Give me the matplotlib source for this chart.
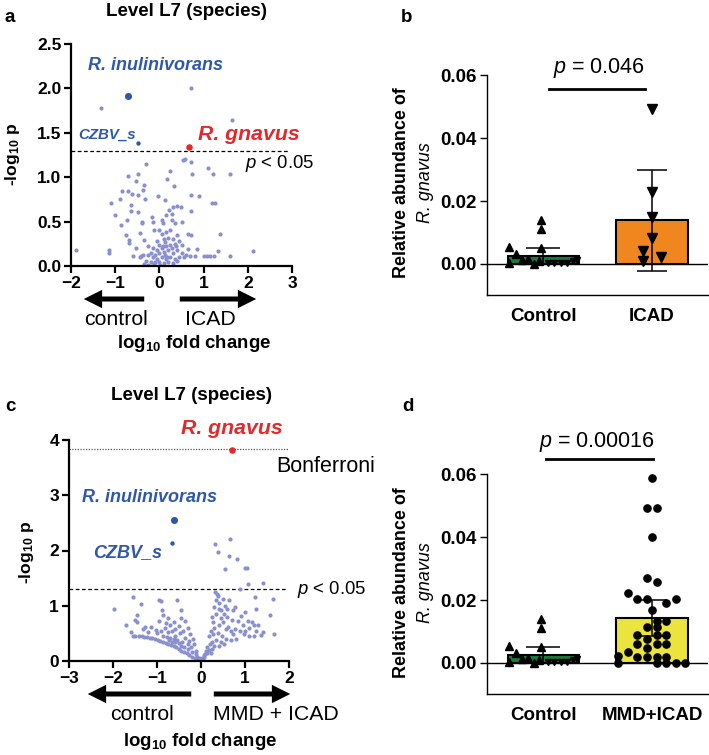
import matplotlib
matplotlib.use('Agg')
import matplotlib.pyplot as plt

plt.rcParams['font.family'] = ['Liberation Sans', 'DejaVu Sans']
plt.rcParams['mathtext.fontset'] = 'custom'
plt.rcParams['mathtext.rm'] = 'Liberation Sans'
plt.rcParams['mathtext.it'] = 'Liberation Sans:italic'
plt.rcParams['mathtext.bf'] = 'Liberation Sans:bold'

# ---- panel a: volcano, control vs ICAD ----
a_pts = [(0.71, 2.00), (-1.31, 1.78), (1.65, 1.645), (0.54, 1.19), (0.59, 1.21), (0.71, 1.17),
         (-0.31, 1.15), (0.25, 1.07), (0.73, 1.04), (1.10, 1.10), (1.22, 1.04), (1.59, 1.04),
         (-0.70, 1.01), (-0.48, 1.04), (-0.53, 0.96), (-0.34, 0.91), (0.18, 0.98), (0.34, 0.90),
         (-0.85, 0.85), (-0.72, 0.85), (-0.61, 0.81), (-0.37, 0.855), (-0.48, 0.80), (-0.03, 0.79),
         (0.71, 0.80), (0.90, 0.79), (-0.89, 0.76), (-1.10, 0.71), (-0.65, 0.685), (-0.33, 0.757),
         (0.12, 0.74), (1.18, 0.715), (1.25, 0.715), (0.31, 0.67), (0.39, 0.68), (0.48, 0.67),
         (0.22, 0.63), (0.28, 0.59), (0.16, 0.57), (-1.01, 0.57), (-0.65, 0.62), (-0.49, 0.61),
         (0.71, 0.62), (-0.16, 0.55), (-0.14, 0.50), (-0.74, 0.52), (-0.88, 0.46), (-0.40, 0.50),
         (-0.40, 0.48), (0.07, 0.52), (0.09, 0.48), (0.28, 0.52), (0.35, 0.48), (0.52, 0.50),
         (-0.76, 0.35), (-0.44, 0.37), (-0.12, 0.40), (0.65, 0.365), (0.71, 0.35), (1.37, 0.365),
         (-0.68, 0.29), (-0.68, 0.26), (-0.35, 0.29), (-1.89, 0.18), (-1.13, 0.18), (-1.13, 0.15),
         (2.12, 0.17), (1.59, 0.11), (1.24, 0.11), (1.07, 0.11), (1.00, 0.11), (0.86, 0.196),
         (0.65, 0.196), (1.33, 0.17), (1.14, 0.11), (-0.59, 0.11), (-0.42, 0.11), (-0.53, 0.20),
         (0.00, 0.40), (0.05, 0.36), (0.15, 0.38), (0.25, 0.40), (0.20, 0.32), (0.10, 0.30),
         (-0.05, 0.28), (0.30, 0.30), (0.40, 0.35), (0.45, 0.28), (0.35, 0.25), (0.25, 0.24),
         (0.15, 0.22), (0.05, 0.20), (-0.05, 0.18), (-0.15, 0.20), (-0.25, 0.22), (-0.20, 0.15),
         (-0.10, 0.12), (0.00, 0.15), (0.10, 0.16), (0.20, 0.18), (0.30, 0.15), (0.40, 0.18),
         (0.50, 0.15), (0.55, 0.10), (0.45, 0.10), (0.35, 0.08), (0.25, 0.10), (0.15, 0.08),
         (0.05, 0.10), (-0.05, 0.08), (-0.15, 0.10), (-0.25, 0.12), (-0.30, 0.06), (-0.20, 0.05),
         (-0.10, 0.04), (0.00, 0.05), (0.10, 0.03), (0.20, 0.05), (0.30, 0.03), (0.40, 0.06),
         (-0.35, 0.02), (-0.25, 0.01), (-0.12, 0.02), (0.02, 0.01), (0.12, 0.12), (0.18, 0.10),
         (0.08, 0.22), (-0.02, 0.24), (0.28, 0.20), (0.60, 0.12), (0.70, 0.11), (0.80, 0.11),
         (-0.38, 0.12), (-0.45, 0.10), (0.38, 0.22), (0.50, 0.24), (0.12, 0.27)]
a_fc = [p[0] for p in a_pts]
a_logp = [p[1] for p in a_pts]
a_inul = (-0.72, 1.91)
a_czbv = (-0.49, 1.39)
a_gnav = (0.68, 1.34)

# ---- panel c: volcano, control vs MMD + ICAD ----
c_pts = [(0.66, 2.20), (0.32, 2.12), (0.39, 1.97), (0.64, 1.90), (0.83, 1.85), (0.55, 1.66),
         (1.01, 1.68), (1.04, 1.68), (1.07, 1.40), (1.41, 1.42), (0.89, 1.31),
         (-1.97, 0.95), (-1.54, 1.16), (-1.35, 1.03), (-1.44, 0.83), (-0.95, 1.10), (-0.90, 1.08),
         (-0.55, 1.10), (-0.44, 0.93), (-0.88, 0.93), (-0.86, 0.83), (-0.75, 0.77), (-1.70, 0.65),
         (-1.50, 0.75), (-1.45, 0.70), (-1.26, 0.61), (-1.13, 0.62), (-1.02, 0.57), (-1.59, 0.52),
         (-1.55, 0.46), (-1.50, 0.46), (-1.40, 0.45), (-1.33, 0.45), (-1.28, 0.44), (-1.22, 0.43),
         (-1.16, 0.42), (-1.10, 0.41), (-1.05, 0.40), (-0.98, 0.38), (-0.92, 0.37), (-0.86, 0.35),
         (-0.80, 0.33), (-0.74, 0.31), (-0.68, 0.29), (-0.62, 0.27), (-0.56, 0.25), (-0.50, 0.22),
         (-0.44, 0.19), (-0.38, 0.17), (-0.32, 0.14), (-0.26, 0.11), (-0.20, 0.08), (-0.14, 0.06),
         (-0.08, 0.03), (-0.04, 0.02), (-0.02, 0.01),
         (-0.95, 0.72), (-0.80, 0.68), (-0.70, 0.66), (-0.62, 0.71), (-0.45, 0.78), (-0.35, 0.72),
         (-0.50, 0.63), (-0.58, 0.58), (-0.66, 0.55), (-0.74, 0.52), (-0.90, 0.55), (-1.00, 0.50),
         (-0.85, 0.46), (-0.78, 0.44), (-0.70, 0.42), (-0.62, 0.40), (-0.55, 0.38), (-0.48, 0.50),
         (-0.40, 0.55), (-0.30, 0.60), (-0.25, 0.48), (-0.35, 0.42), (-0.42, 0.34), (-0.50, 0.32),
         (-0.58, 0.35), (-0.30, 0.30), (-0.22, 0.25), (-0.28, 0.36), (-0.18, 0.40), (-0.15, 0.30),
         (-0.12, 0.18), (-0.20, 0.16), (-0.10, 0.12), (-0.30, 0.22), (-0.38, 0.25), (-0.45, 0.28),
         (-0.65, 0.35), (-0.72, 0.38), (-1.20, 0.52), (-1.32, 0.58), (-0.82, 0.60), (-0.58, 0.45),
         (-0.08, 0.08), (-0.05, 0.05),
         (0.32, 1.25), (0.36, 1.22), (0.38, 1.18), (0.34, 1.10), (0.40, 1.05), (0.64, 1.10),
         (0.77, 0.97), (1.01, 0.88), (1.58, 0.83), (1.36, 0.47), (1.42, 0.52), (1.23, 1.16),
         (1.64, 1.12), (1.24, 0.95), (1.66, 0.48), (0.55, 1.00), (0.45, 0.92), (0.35, 0.85),
         (0.25, 0.80), (0.52, 0.85), (0.60, 0.80), (0.70, 0.75), (0.85, 0.72), (0.95, 0.65),
         (1.10, 0.60), (1.20, 0.65), (1.25, 0.55), (1.10, 0.45), (0.98, 0.48), (0.88, 0.55),
         (0.78, 0.58), (0.68, 0.55), (0.62, 0.62), (0.50, 0.70), (0.42, 0.65), (0.30, 0.60),
         (0.22, 0.55), (0.18, 0.45), (0.28, 0.48), (0.38, 0.50), (0.48, 0.45), (0.58, 0.40),
         (0.68, 0.38), (0.80, 0.40), (0.45, 0.35), (0.35, 0.38), (0.26, 0.35), (0.20, 0.30),
         (0.15, 0.25), (0.30, 0.28), (0.40, 0.28), (0.52, 0.30), (0.12, 0.18), (0.18, 0.20),
         (0.25, 0.22), (0.10, 0.12), (0.08, 0.08), (0.05, 0.05), (0.03, 0.03), (0.14, 0.14),
         (0.22, 0.15), (0.06, 0.10), (0.02, 0.06), (0.00, 0.02), (0.01, 0.04), (0.04, 0.01),
         (0.50, 1.12), (0.46, 0.78), (0.74, 0.92), (0.92, 0.82), (1.08, 0.72), (1.00, 0.55),
         (0.72, 0.48), (1.15, 0.70), (0.60, 0.95), (0.40, 0.95), (0.30, 0.98), (0.28, 0.70),
         (0.56, 0.58), (1.30, 0.65), (1.20, 0.45)]
c_fc = [p[0] for p in c_pts]
c_logp = [p[1] for p in c_pts]
c_inul = (-0.61, 2.55)
c_czbv = (-0.65, 2.13)
c_gnav = (0.71, 3.81)
bonferroni = 3.84
p05 = 1.30

# ---- panels b / d: relative abundance ----
ctrl_mean, ctrl_sd = 0.0025, 0.0027
ctrl_up_x = [-0.32, -0.32, -0.25, -0.20, -0.14, -0.09, -0.02, -0.02, -0.02, -0.04]
ctrl_up_y = [0.0053, 0.0002, 0.0030, 0.0012, 0.0016, 0.0001, 0.0139, 0.0110, 0.0052, 0.0008]
ctrl_dn_x = [0.04, 0.10, 0.16, 0.22, 0.27, 0.31]
ctrl_dn_y = [0.0004, 0.0004, 0.0004, 0.0004, 0.0010, 0.0012]

icad_mean, icad_sd = 0.0138, 0.0162
icad_x = [0.0, 0.0, 0.0, 0.0, -0.08, -0.08, 0.08]
icad_y = [0.0494, 0.0229, 0.0150, 0.0083, 0.0042, 0.0008, 0.0023]

mmd_mean, mmd_err = 0.0144, 0.0057
mmd_x = [0.0, -0.05, 0.045, 0.0, -0.05, 0.045, -0.22, -0.14, -0.05, 0.13, 0.22, 0.0,
         0.045, 0.13, -0.05, 0.045, -0.14, 0.045, 0.13, -0.14, 0.045, 0.13, -0.05,
         -0.22, -0.31, -0.14, -0.05, 0.045, 0.13, -0.31, 0.045, 0.13, 0.22, 0.30, -0.05]
mmd_y = [0.0587, 0.0494, 0.0494, 0.0402, 0.0270, 0.0257, 0.0222, 0.0204, 0.0204, 0.0190, 0.0203, 0.0167,
         0.0132, 0.0132, 0.0113, 0.0113, 0.0090, 0.0088, 0.0088, 0.0061, 0.0061, 0.0061, 0.0048,
         0.0034, 0.0023, 0.0019, 0.0019, 0.0019, 0.0019, 0.0, 0.0, 0.0, 0.0, 0.0, 0.0075]

W, H = 709, 755
dot_col = '#8a8fcf'
blue = '#2f58ad'
red = '#e5282a'

fig = plt.figure(figsize=(W / 100, H / 100), dpi=100)


def fpos(x, y):
    return x / W, 1 - y / H


def ftext(x, y, s, **kw):
    fx, fy = fpos(x, y)
    fig.text(fx, fy, s, ha=kw.pop('ha', 'center'), va=kw.pop('va', 'center'), **kw)


def farrow(x0, x1, y):
    fig.add_artist(matplotlib.patches.FancyArrowPatch(
        fpos(x0, y), fpos(x1, y), transform=fig.transFigure,
        arrowstyle='simple,head_width=1.1,head_length=1.1,tail_width=0.3',
        mutation_scale=12, color='black', lw=0))


def volcano(rect, fc, logp, inul, czbv, gnav, xlim, ylim, yticks, yfmt):
    ax = fig.add_axes(rect)
    ax.scatter(fc, logp, s=9, color=dot_col, linewidths=0, zorder=2)
    ax.scatter([inul[0]], [inul[1]], s=26, color=blue, linewidths=0, zorder=3)
    ax.scatter([czbv[0]], [czbv[1]], s=10, color=blue, linewidths=0, zorder=3)
    ax.scatter([gnav[0]], [gnav[1]], s=22, color=red, linewidths=0, zorder=3)
    ax.set_xlim(*xlim)
    ax.set_ylim(*ylim)
    ax.set_yticks(yticks)
    ax.set_yticklabels([yfmt % t for t in yticks])
    ax.set_xticks(range(int(xlim[0]), int(xlim[1]) + 1))
    for s in ['top', 'right']:
        ax.spines[s].set_visible(False)
    for s in ['left', 'bottom']:
        ax.spines[s].set_linewidth(1.6)
    ax.tick_params(direction='out', length=5, width=1.6, labelsize=12.5, pad=2)
    for lab in ax.get_xticklabels() + ax.get_yticklabels():
        lab.set_fontweight('bold')
    ax.patch.set_alpha(0)
    return ax


# panel a
ax_a = volcano([71 / W, 1 - 266 / H, 221 / W, 222 / H], a_fc, a_logp, a_inul, a_czbv, a_gnav,
               (-2, 3), (0, 2.5), [0, 0.5, 1.0, 1.5, 2.0, 2.5], '%.1f')
ax_a.plot([-2, 2.91], [p05, p05], ls=(0, (3, 2)), color='black', lw=0.9, zorder=1)
ftext(10, 17, 'a', fontsize=13.5, fontweight='bold')
ftext(187, 12, 'Level L7 (species)', fontsize=13.5, fontweight='bold')
ftext(155, 65, 'R. inulinivorans', fontsize=13, fontweight='bold', style='italic', color=blue)
ftext(107, 135, 'CZBV_s', fontsize=10.8, fontweight='bold', style='italic', color=blue)
ftext(249, 135, 'R. gnavus', fontsize=15.3, fontweight='bold', style='italic', color=red)
ftext(245, 164, r'$\it{p}$ < 0.05', fontsize=13.3, ha='left')
ftext(12, 154, r'-log$_{\mathbf{10}}$ p', fontsize=12.6, fontweight='bold', rotation=90)
farrow(147, 81, 299)
farrow(177, 259, 299)
ftext(116, 320, 'control', fontsize=15.3)
ftext(210, 320, 'ICAD', fontsize=15.3)
ftext(194, 343, r'log$_{\mathbf{10}}$ fold change', fontsize=13.4, fontweight='bold')

# panel c
ax_c = volcano([68.7 / W, 1 - 661 / H, 220.3 / W, 221 / H], c_fc, c_logp, c_inul, c_czbv, c_gnav,
               (-3, 2), (0, 4), [0, 1, 2, 3, 4], '%d')
ax_c.plot([-3, 1.95], [p05, p05], ls=(0, (3, 2)), color='black', lw=0.9, zorder=1)
ax_c.plot([-3, 1.98], [bonferroni, bonferroni], ls=(0, (1, 1.2)), color='#555555', lw=0.9, zorder=1)
ftext(10, 407, 'c', fontsize=13.5, fontweight='bold')
ftext(191, 395, 'Level L7 (species)', fontsize=13.5, fontweight='bold')
ftext(232, 428, 'R. gnavus', fontsize=15.3, fontweight='bold', style='italic', color=red)
ftext(276, 466, 'Bonferroni', fontsize=15.5, ha='left')
ftext(150, 498, 'R. inulinivorans', fontsize=13, fontweight='bold', style='italic', color=blue)
ftext(128, 553, 'CZBV_s', fontsize=13, fontweight='bold', style='italic', color=blue)
ftext(297, 590, r'$\it{p}$ < 0.05', fontsize=13.3, ha='left')
ftext(26, 552, r'-log$_{\mathbf{10}}$ p', fontsize=12.6, fontweight='bold', rotation=90)
farrow(194, 85, 694)
farrow(211, 293, 694)
ftext(142, 714, 'control', fontsize=15.3)
ftext(276, 714, 'MMD + ICAD', fontsize=15.3)
ftext(200, 741, r'log$_{\mathbf{10}}$ fold change', fontsize=13.4, fontweight='bold')


def barpanel(top_px, case_mean, case_err, case_x, case_y, case_marker, case_ms, case_col, case_label):
    bottom_px = top_px + 220
    ax = fig.add_axes([486.7 / W, 1 - bottom_px / H, (708 - 486.7) / W, 220 / H])
    ax.bar([0, 1], [ctrl_mean, case_mean], width=0.66, color=['#1c7a3a', case_col],
           edgecolor='black', linewidth=1.5, zorder=2)
    ax.errorbar([0.0], [ctrl_mean], yerr=[ctrl_sd], fmt='none', ecolor='black',
                elinewidth=1.1, capsize=12, capthick=1.1, zorder=4)
    ax.errorbar([1.0], [case_mean], yerr=[case_err], fmt='none', ecolor='black',
                elinewidth=1.1, capsize=11, capthick=1.1, zorder=4)
    ax.plot(ctrl_up_x, ctrl_up_y, '^', color='black', ms=5.5, zorder=3)
    ax.plot(ctrl_dn_x, ctrl_dn_y, 'v', color='black', ms=5, zorder=3)
    ax.plot([1 + v for v in case_x], case_y, case_marker, color='black', ms=case_ms, zorder=3)
    ax.axhline(0, color='black', lw=1.0, zorder=1)
    ax.set_xlim(-0.523, 1.516)
    ax.set_ylim(-0.01, 0.06)
    ax.set_yticks([0, 0.02, 0.04, 0.06])
    ax.set_yticklabels(['0.00', '0.02', '0.04', '0.06'])
    ax.set_xticks([0, 1])
    ax.set_xticklabels(['Control', case_label])
    ax.spines['top'].set_visible(False)
    ax.spines['right'].set_visible(False)
    ax.spines['left'].set_linewidth(1.0)
    ax.spines['bottom'].set_linewidth(1.0)
    ax.spines['left'].set_bounds(-0.01, 0.06)
    ax.tick_params(axis='y', direction='out', length=5, width=1.0, labelsize=13.5, pad=2)
    ax.tick_params(axis='x', length=0, labelsize=13.5, pad=9)
    for lab in ax.get_xticklabels() + ax.get_yticklabels():
        lab.set_fontweight('bold')
    ax.patch.set_alpha(0)
    return ax


# panel b
ax_b = barpanel(75.3, icad_mean, icad_sd, icad_x, icad_y, 'v', 6.5, '#f0861e', 'ICAD')
ax_b.plot([0.05, 0.94], [0.0557, 0.0557], color='black', lw=2.0, clip_on=False)
ftext(407, 17, 'b', fontsize=13.5, fontweight='bold')
ftext(599, 68, r'$\it{p}$ = 0.046', fontsize=15.5)
ftext(401, 183, 'Relative abundance of', fontsize=12.9, fontweight='bold', rotation=90)
ftext(426, 183, 'R. gnavus', fontsize=12.9, style='italic', rotation=90)

# panel d
ax_d = barpanel(474.3, mmd_mean, mmd_err, mmd_x, mmd_y, 'o', 5.2, '#ece43e', 'MMD+ICAD')
ax_d.plot([0.02, 1.01], [0.0648, 0.0648], color='black', lw=2.0, clip_on=False)
ftext(408, 407, 'd', fontsize=13.5, fontweight='bold')
ftext(597, 442, r'$\it{p}$ = 0.00016', fontsize=15.5)
ftext(401, 583, 'Relative abundance of', fontsize=12.9, fontweight='bold', rotation=90)
ftext(426, 583, 'R. gnavus', fontsize=12.9, style='italic', rotation=90)

fig.savefig('out.png', dpi=100)
